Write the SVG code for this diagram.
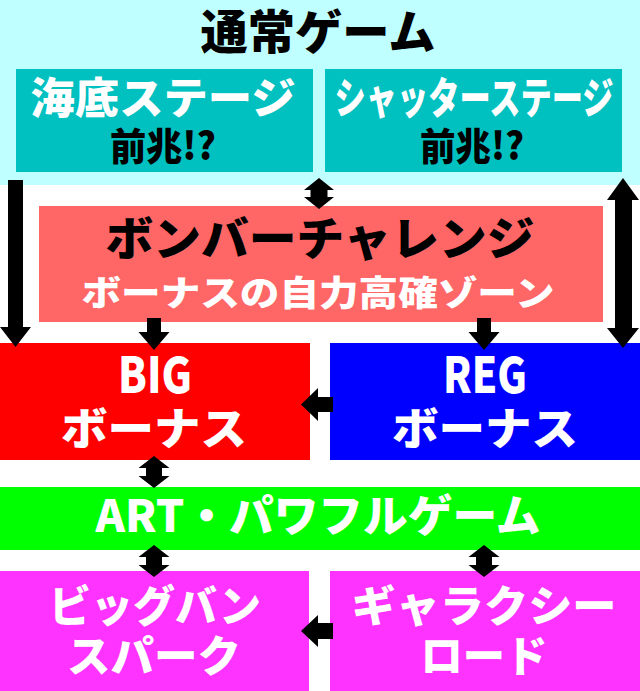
<svg xmlns="http://www.w3.org/2000/svg" width="640" height="691" viewBox="0 0 640 691">
<style>
text{font-family:"Noto Sans CJK JP","Noto Sans",sans-serif;font-weight:900;text-anchor:middle}
.w{fill:#ffffff}
.k{fill:#000000}
.arr{fill:#000000}
</style>
<rect width="640" height="691" fill="#ffffff"/>
<g id="normal-game">
<rect x="0" y="0" width="640" height="185" fill="#c0ffff"/>
<text class="k" x="318" y="49" font-size="47" textLength="235" lengthAdjust="spacingAndGlyphs">通常ゲーム</text>
</g>
<g id="kaitei-stage">
<rect x="16" y="69" width="297" height="103" fill="#00c0c0"/>
<text class="w" x="163" y="114" font-size="43" textLength="265" lengthAdjust="spacingAndGlyphs">海底ステージ</text>
<text class="k" x="163" y="160" font-size="38" textLength="106" lengthAdjust="spacingAndGlyphs">前兆!?</text>
</g>
<g id="shutter-stage">
<rect x="325" y="69" width="297" height="103" fill="#00c0c0"/>
<text class="w" x="474" y="114" font-size="43" textLength="279" lengthAdjust="spacingAndGlyphs">シャッターステージ</text>
<text class="k" x="472" y="160" font-size="38" textLength="104" lengthAdjust="spacingAndGlyphs">前兆!?</text>
</g>
<g id="bomber-challenge">
<rect x="39" y="206" width="564" height="116" fill="#ff6666"/>
<text class="k" x="320" y="255" font-size="46" textLength="429" lengthAdjust="spacingAndGlyphs">ボンバーチャレンジ</text>
<text class="w" x="318" y="306" font-size="35" textLength="473" lengthAdjust="spacingAndGlyphs">ボーナスの自力高確ゾーン</text>
</g>
<g id="big-bonus">
<rect x="0" y="343" width="310" height="117" fill="#ff0000"/>
<text class="w" x="155" y="393" font-size="49" textLength="74" lengthAdjust="spacingAndGlyphs">BIG</text>
<text class="w" x="154" y="445" font-size="44" textLength="186" lengthAdjust="spacingAndGlyphs">ボーナス</text>
</g>
<g id="reg-bonus">
<rect x="330" y="343" width="310" height="117" fill="#0000ff"/>
<text class="w" x="485" y="393" font-size="49" textLength="84" lengthAdjust="spacingAndGlyphs">REG</text>
<text class="w" x="485" y="445" font-size="44" textLength="186" lengthAdjust="spacingAndGlyphs">ボーナス</text>
</g>
<g id="art-powerful-game">
<rect x="0" y="487" width="640" height="63" fill="#00ff00"/>
<text class="w" x="318" y="532" font-size="44" textLength="445" lengthAdjust="spacingAndGlyphs">ART・パワフルゲーム</text>
</g>
<g id="bigbang-spark">
<rect x="0" y="571" width="309" height="120" fill="#ff33ff"/>
<text class="w" x="155" y="622" font-size="43" textLength="212" lengthAdjust="spacingAndGlyphs">ビッグバン</text>
<text class="w" x="154" y="672" font-size="43" textLength="174" lengthAdjust="spacingAndGlyphs">スパーク</text>
</g>
<g id="galaxy-road">
<rect x="330" y="571" width="310" height="120" fill="#ff33ff"/>
<text class="w" x="484" y="622" font-size="43" textLength="265" lengthAdjust="spacingAndGlyphs">ギャラクシー</text>
<text class="w" x="484" y="672" font-size="43" textLength="127" lengthAdjust="spacingAndGlyphs">ロード</text>
</g>
<g id="connectors">
<polygon class="arr" points="8,180 23,180 23,327 31,327 15.5,347 0,327 8,327"/>
<polygon class="arr" points="319,178 334,190 327.5,190 327.5,197 334,197 319,209 304,197 310.5,197 310.5,190 304,190"/>
<polygon class="arr" points="623,178 639,200 632,200 632,328 639,328 623,348 607,328 615,328 615,200 607,200"/>
<polygon class="arr" points="147,318 161,318 161,332 169.5,332 154,350 138.5,332 147,332"/>
<polygon class="arr" points="477,318 491,318 491,332 499.5,332 484,350 468.5,332 477,332"/>
<polygon class="arr" points="333,397 333,412 318,412 318,421 301,404.5 318,388 318,397"/>
<polygon class="arr" points="154,456 169.5,468 162,468 162,476 169.5,476 154,488 138.5,476 146,476 146,468 138.5,468"/>
<polygon class="arr" points="154,545 169.5,557 162,557 162,565 169.5,565 154,577 138.5,565 146,565 146,557 138.5,557"/>
<polygon class="arr" points="484,545 499.5,557 492,557 492,565 499.5,565 484,577 468.5,565 476,565 476,557 468.5,557"/>
<polygon class="arr" points="333,623 333,639 318,639 318,647 301,631 318,615 318,623"/>
</g>
</svg>
